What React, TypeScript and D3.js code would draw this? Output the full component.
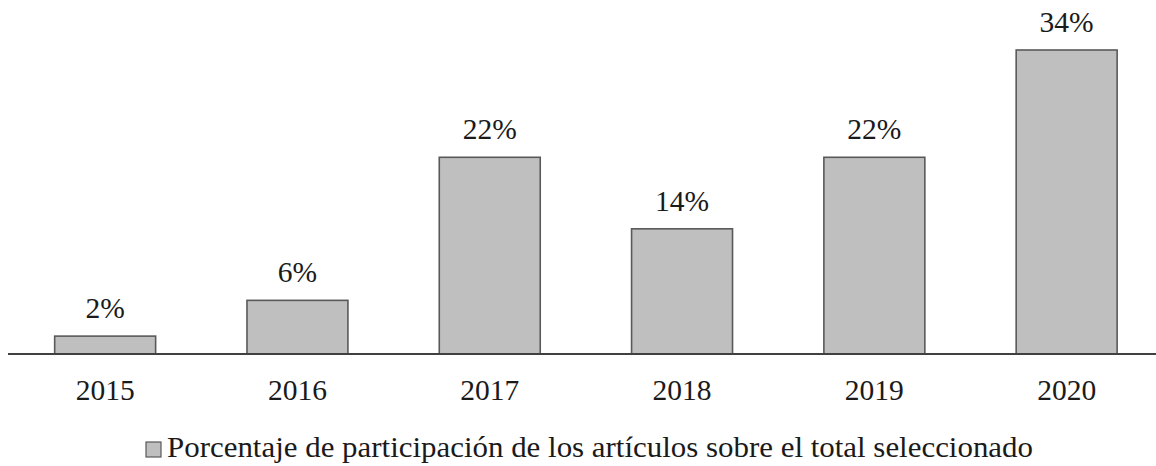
import * as React from 'react';
import * as d3 from 'd3';

const years = ['2015', '2016', '2017', '2018', '2019', '2020'];
const shares = [2, 6, 22, 14, 22, 34];
const seriesName = 'Porcentaje de participación de los artículos sobre el total seleccionado';

const W = 1156;
const H = 466;
const FONT = '"Liberation Serif", "Times New Roman", serif';

export default function App() {
  const baseY = 354;

  const x = d3.scaleBand<string>()
    .domain(years)
    .range([9, 9 + 6 * 192.3])
    .paddingInner(0.475)
    .paddingOuter(0.2375);

  const y = d3.scaleLinear()
    .domain([0, 34])
    .range([baseY, 50]);

  return (
    <svg
      width={W}
      height={H}
      style={{ position: 'absolute', left: 0, top: 0, background: '#fff' }}
      fontFamily={FONT}
    >
      {years.map((yr, i) => {
        const x0 = x(yr)!;
        const bw = x.bandwidth();
        const top = y(shares[i]);
        return (
          <g key={yr}>
            <rect
              x={x0}
              y={top}
              width={bw}
              height={baseY - top}
              fill="#bfbfbf"
              stroke="#595959"
              strokeWidth={1.6}
            />
            <text
              x={x0 + bw / 2}
              y={top - 18}
              textAnchor="middle"
              fontSize={29.5}
              fill="#1a1a1a"
            >
              {shares[i] + '%'}
            </text>
            <text
              x={x0 + bw / 2}
              y={400}
              textAnchor="middle"
              fontSize={29.5}
              fill="#1a1a1a"
            >
              {yr}
            </text>
          </g>
        );
      })}
      <line x1={8} x2={W} y1={baseY} y2={baseY} stroke="#404040" strokeWidth={2} />

      {/* legend */}
      <rect x={146} y={442} width={15} height={15} fill="#bfbfbf" stroke="#595959" strokeWidth={1.2} />
      <text
        x={167}
        y={457}
        fontSize={29.5}
        fill="#1a1a1a"
        textLength={866}
        lengthAdjust="spacingAndGlyphs"
      >
        {seriesName}
      </text>
    </svg>
  );
}
